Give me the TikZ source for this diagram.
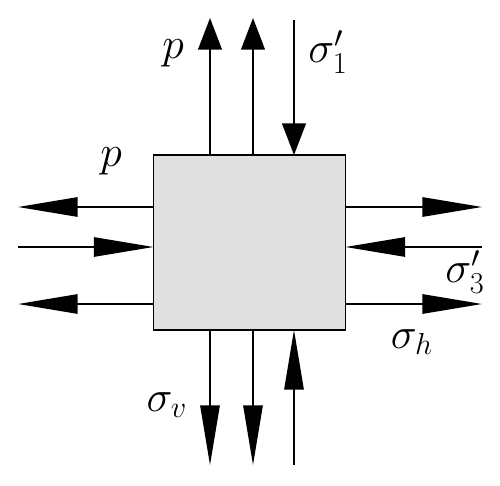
\documentclass[tikz,border=0pt]{standalone}
\usepackage{tikz}
\usetikzlibrary{positioning,arrows.meta}
\tikzset{blk/.style={draw, line width=1.1pt, fill=black!12, minimum width=3.84cm, minimum height=3.5cm, inner sep=0pt, outer sep=0pt}}
\tikzset{arr/.style={draw, line width=1.1pt, -{Triangle[length=34pt, width=11pt]}}}
\tikzset{arrs/.style={draw, line width=1.1pt, -{Triangle[length=18pt, width=13.5pt]}}}
\tikzset{lbl/.style={inner sep=0pt, font=\fontsize{23}{28}\selectfont}}

\begin{document}
\begin{tikzpicture}[x=0.02cm, y=-0.02cm]
		\useasboundingbox (0,0) rectangle (500,485);
		\node[blk] (blk) at (249.5,242.5) {};
		% free ends of the arrows
		\coordinate (t1) at (210,18);
		\coordinate (t2) at (253,18);
		\coordinate (t3) at (294,20);
		\coordinate (b1) at (210,465);
		\coordinate (b2) at (253,465);
		\coordinate (b3) at (294,465);
		\coordinate (l1) at (18,207);
		\coordinate (l2) at (18,247);
		\coordinate (l3) at (18,304);
		\coordinate (r1) at (482,207);
		\coordinate (r2) at (482,247);
		\coordinate (r3) at (482,304);
		% top
		\draw[arrs] (blk.north -| t1) -- (t1);
		\draw[arrs] (blk.north -| t2) -- (t2);
		\draw[arrs] (t3) -- (blk.north -| t3);
		% bottom
		\draw[arr] (blk.south -| b1) -- (b1);
		\draw[arr] (blk.south -| b2) -- (b2);
		\draw[arr] (b3) -- (blk.south -| b3);
		% left
		\draw[arr] (blk.west |- l1) -- (l1);
		\draw[arr] (l2) -- (blk.west |- l2);
		\draw[arr] (blk.west |- l3) -- (l3);
		% right
		\draw[arr] (blk.east |- r1) -- (r1);
		\draw[arr] (r2) -- (blk.east |- r2);
		\draw[arr] (blk.east |- r3) -- (r3);
		% labels
		\node[lbl] (pt) at (173,53) {$p$};
		\node[lbl] (s1) at (328,52) {$\sigma'_1$};
		\node[lbl] (pl) at (111,161) {$p$};
		\node[lbl] (s3) at (465,272) {$\sigma'_3$};
		\node[lbl] (sh) at (412,342) {$\sigma_h$};
		\node[lbl] (sv) at (167,405) {$\sigma_v$};
	\end{tikzpicture}
\end{document}
